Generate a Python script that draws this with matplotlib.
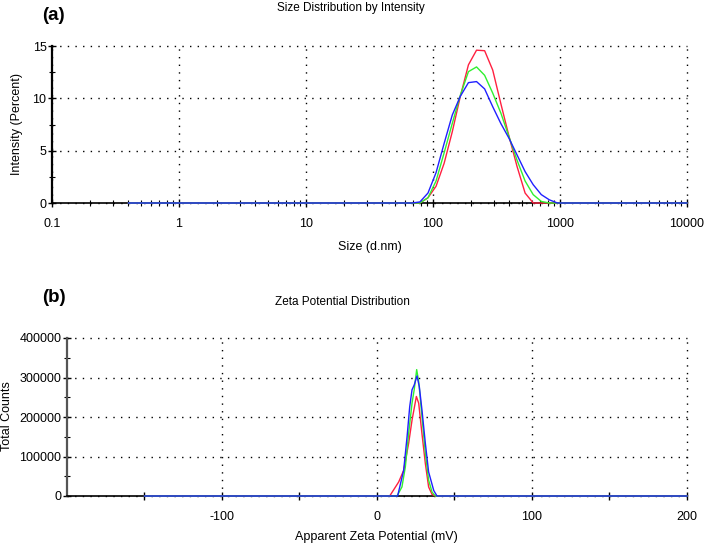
import numpy as np
import matplotlib
matplotlib.use("Agg")
import matplotlib.pyplot as plt
from matplotlib.ticker import FixedLocator, NullFormatter, LogLocator

plt.rcParams['font.family'] = ['Liberation Sans', 'DejaVu Sans']
plt.rcParams['axes.unicode_minus'] = False

# --- (a) size distribution by intensity (three runs)
size_nm = [0.4, 68.06, 78.82, 91.28, 105.7, 122.4, 141.8, 164.2, 190.1, 220.2,
           255.0, 295.3, 342.0, 396.1, 458.7, 531.2, 615.1, 712.4, 825.0, 955.4, 10000]
int_red = [0, 0, 0, 0.5, 1.6, 3.8, 6.8, 10.2, 13.2, 14.6,
           14.55, 12.7, 9.5, 6.4, 3.5, 0.95, 0, 0, 0, 0, 0]
int_green = [0, 0, 0, 0.5, 2.1, 4.8, 7.6, 10.3, 12.55, 13.0,
             12.2, 10.5, 8.6, 6.35, 4.1, 2.1, 0.8, 0.15, 0, 0, 0]
int_blue = [0, 0, 0.1, 0.95, 2.9, 5.7, 8.4, 10.2, 11.5, 11.6,
            10.9, 9.2, 7.6, 6.2, 4.6, 3.0, 1.75, 0.8, 0.3, 0, 0]

# --- (b) zeta potential distribution (three runs)
zeta_red_x = [-150, 8.2, 14.0, 17.2, 20.4, 22.6, 25.4, 26.9, 29.0, 31.2, 33.3, 35.5, 37.6, 200]
zeta_red_y = [0, 0, 35600, 65000, 133000, 192000, 252000, 235000, 158000, 82000, 23000, 4000, 0, 0]
zeta_green_x = [-150, 12.9, 16.1, 18.3, 20.4, 22.6, 24.0, 25.6, 26.9, 29.0, 31.2, 33.3, 35.5, 37.6, 200]
zeta_green_y = [0, 0, 23000, 74000, 158000, 235000, 269000, 320000, 290000, 201000, 108000, 40000, 10000, 0, 0]
zeta_blue_x = [-150, 13.3, 17.2, 19.4, 21.1, 22.6, 24.0, 25.8, 27.3, 29.0, 31.2, 33.3, 36.6, 38.7, 200]
zeta_blue_y = [0, 0, 65000, 150000, 226000, 269000, 281000, 304000, 277000, 218000, 133000, 61000, 14000, 0, 0]

RED = '#ff2040'
GREEN = '#30f030'
BLUE = '#2020ff'
grid_kw = dict(color='black', linestyle=(0, (1, 4.5)), linewidth=1.0)
line_kw = dict(lw=1.0, zorder=3, clip_on=False)

fig = plt.figure(figsize=(7.06, 5.45), dpi=100)
W, H = 706, 545

def px_axes(l, t, r, b):
    return fig.add_axes([l / W, 1 - b / H, (r - l) / W, (b - t) / H])

def style(ax, spine_color):
    for s in ('top', 'right'):
        ax.spines[s].set_visible(False)
    ax.spines['left'].set_color(spine_color)
    ax.spines['left'].set_linewidth(1.6)
    ax.spines['bottom'].set_color('black')
    ax.spines['bottom'].set_linewidth(1.2)
    ax.tick_params(which='both', direction='inout', labelsize=9, colors='black')
    ax.tick_params(which='major', length=6, width=1)
    ax.tick_params(which='minor', length=5, width=0.8)
    ax.tick_params(axis='x', pad=8)
    ax.tick_params(axis='y', pad=1)
    ax.grid(True, which='major', **grid_kw)
    for gl in ax.get_xgridlines() + ax.get_ygridlines():
        gl.set_clip_on(False)

# panel (a)
ax1 = px_axes(52, 46, 687, 203)
ax1.plot(size_nm, int_red, color=RED, **line_kw)
ax1.plot(size_nm, int_green, color=GREEN, **line_kw)
ax1.plot(size_nm, int_blue, color=BLUE, **line_kw)
ax1.set_xscale('log')
ax1.set_xlim(0.1, 10000)
ax1.set_ylim(0, 15)
ax1.set_xticks([0.1, 1, 10, 100, 1000, 10000])
ax1.set_xticklabels(['0.1', '1', '10', '100', '1000', '10000'])
ax1.xaxis.set_minor_locator(LogLocator(base=10, subs=np.arange(2, 10), numticks=20))
ax1.xaxis.set_minor_formatter(NullFormatter())
ax1.set_yticks([0, 5, 10, 15])
ax1.yaxis.set_minor_locator(FixedLocator([2.5, 7.5, 12.5]))
style(ax1, 'black')

# panel (b)
ax2 = px_axes(67, 338, 687, 496)
ax2.plot(zeta_red_x, zeta_red_y, color=RED, **line_kw)
ax2.plot(zeta_green_x, zeta_green_y, color=GREEN, **line_kw)
ax2.plot(zeta_blue_x, zeta_blue_y, color=BLUE, **line_kw)
ax2.set_xlim(-200, 200)
ax2.set_ylim(0, 400000)
ax2.set_xticks([-100, 0, 100, 200])
ax2.xaxis.set_minor_locator(FixedLocator([-150, -50, 50, 150]))
ax2.set_yticks([0, 100000, 200000, 300000, 400000])
ax2.set_yticklabels(['0', '100000', '200000', '300000', '400000'])
ax2.yaxis.set_minor_locator(FixedLocator([50000, 150000, 250000, 350000]))
style(ax2, '#555555')
ax2.tick_params(which='minor', axis='x', length=6, width=1)

# texts
fig.text(351 / W, 1 - 8 / H, 'Size Distribution by Intensity', ha='center', va='center', fontsize=8.5)
fig.text(42 / W, 1 - 15 / H, '(a)', ha='left', va='center', fontsize=13.5, fontweight='bold')
fig.text(370 / W, 1 - 247 / H, 'Size (d.nm)', ha='center', va='center', fontsize=9)
fig.text(17 / W, 1 - 124 / H, 'Intensity (Percent)', ha='center', va='center', fontsize=9, rotation=90)

fig.text(342 / W, 1 - 302 / H, 'Zeta Potential Distribution', ha='center', va='center', fontsize=8.5)
fig.text(42 / W, 1 - 298 / H, '(b)', ha='left', va='center', fontsize=13.5, fontweight='bold')
fig.text(376 / W, 1 - 537 / H, 'Apparent Zeta Potential (mV)', ha='center', va='center', fontsize=9)
fig.text(7 / W, 1 - 416 / H, 'Total Counts', ha='center', va='center', fontsize=9, rotation=90)

fig.savefig('out.png', dpi=100)
